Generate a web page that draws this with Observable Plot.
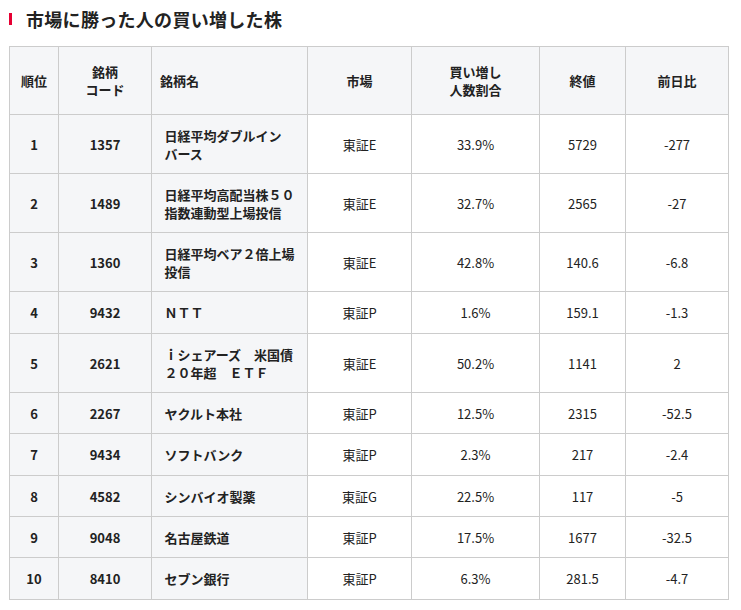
<!DOCTYPE html>
<html lang="ja">
<head>
<meta charset="utf-8">
<script src="https://cdn.jsdelivr.net/npm/d3@7"></script>
<script src="https://cdn.jsdelivr.net/npm/@observablehq/plot@0.6"></script>
<style>
  html, body { margin: 0; padding: 0; background: #fff; }
  body { width: 741px; font-family: "Noto Sans CJK JP", sans-serif; color: #222; }
  #title { position: relative; height: 40px; box-sizing: border-box; padding: 5px 0 0 26px;
           font-size: 18px; line-height: 28px; font-weight: 700; letter-spacing: 0.3px; }
  #title i { position: absolute; left: 9px; top: 13px; width: 3px; height: 12px; background: #e60033; }
  svg { display: block; }
</style>
</head>
<body>
<div id="title"><i></i><span id="titleText"></span></div>
<div id="chart"></div>
<script>
const titleText = "市場に勝った人の買い増した株";
const headers = ["順位", "銘柄\nコード", "銘柄名", "市場", "買い増し\n人数割合", "終値", "前日比"];
const ranks = [1, 2, 3, 4, 5, 6, 7, 8, 9, 10];
const codes = ["1357", "1489", "1360", "9432", "2621", "2267", "9434", "4582", "9048", "8410"];
const names = [
  "日経平均ダブルイン\nバース",
  "日経平均高配当株５０\n指数連動型上場投信",
  "日経平均ベア２倍上場\n投信",
  "ＮＴＴ",
  "ｉシェアーズ　米国債\n２０年超　ＥＴＦ",
  "ヤクルト本社",
  "ソフトバンク",
  "シンバイオ製薬",
  "名古屋鉄道",
  "セブン銀行"
];
const markets = ["東証E", "東証E", "東証E", "東証P", "東証E", "東証P", "東証P", "東証G", "東証P", "東証P"];
const shares = [33.9, 32.7, 42.8, 1.6, 50.2, 12.5, 2.3, 22.5, 17.5, 6.3];
const closes = [5729, 2565, 140.6, 159.1, 1141, 2315, 217, 117, 1677, 281.5];
const changes = [-277, -27, -6.8, -1.3, 2, -52.5, -2.4, -5, -32.5, -4.7];

document.getElementById("titleText").textContent = titleText;

// Table geometry: column and row indexes are mapped onto the picture by piecewise scales.
const columnEdges = [9.5, 58.5, 151.5, 307.5, 411.5, 539.5, 625.5, 728.5];
const rowEdges = [6.5, 74.5, 133.5, 192.5, 251.5, 293.5, 352.5, 393.5, 435.5, 476.5, 517.5, 559.5];
const svgHeight = 570;

const columnIndex = columnEdges.map((_, i) => i);
const rowIndex = rowEdges.map((_, i) => i);
const cells = rowIndex.slice(0, -1).flatMap(row => columnIndex.slice(0, -1).map(col => ({row, col})));

const ink = "#222222";
const font = {fontFamily: '"Noto Sans CJK JP", sans-serif', fontSize: 13, lineHeight: 1.4, fill: ink, dy: -0.6};
const centred = {textAnchor: "middle", dx: -0.5, ...font};
const boldStart = {textAnchor: "start", ...font, fontWeight: 700};

const columnText = (values, col, opts = {}) =>
  Plot.text(values, {
    x: () => col + 0.5,
    y: (d, i) => i + 1.5,
    text: d => String(d),
    ...centred,
    ...opts
  });

const chart = Plot.plot({
  width: 741,
  height: svgHeight,
  margin: 0,
  style: {background: "#fff"},
  x: {type: "linear", domain: columnIndex, range: columnEdges, axis: null},
  y: {type: "linear", domain: rowIndex, range: rowEdges, axis: null},
  marks: [
    Plot.rect(cells, {
      x1: "col",
      x2: d => d.col + 1,
      y1: "row",
      y2: d => d.row + 1,
      fill: d => (d.row === 0 || d.col < 3) ? "#f5f6f8" : "#ffffff",
      stroke: "#cccccc",
      strokeWidth: 1
    }),
    // header row: 銘柄名 is left aligned, the others centred
    Plot.text(headers.filter((_, i) => i !== 2), {
      x: d => headers.indexOf(d) + 0.5,
      y: () => 0.5,
      text: d => d,
      ...centred,
      fontWeight: 700
    }),
    Plot.text([headers[2]], {x: () => 2, y: () => 0.5, dx: 8, text: d => d, ...boldStart}),
    columnText(ranks, 0, {fontWeight: 700}),
    columnText(codes, 1, {fontWeight: 700}),
    Plot.text(names, {x: () => 2, y: (d, i) => i + 1.5, dx: 12.5, text: d => d, ...boldStart}),
    columnText(markets, 3),
    columnText(shares.map(v => v + "%"), 4),
    columnText(closes, 5),
    columnText(changes, 6)
  ]
});
document.getElementById("chart").append(chart);
</script>
</body>
</html>
